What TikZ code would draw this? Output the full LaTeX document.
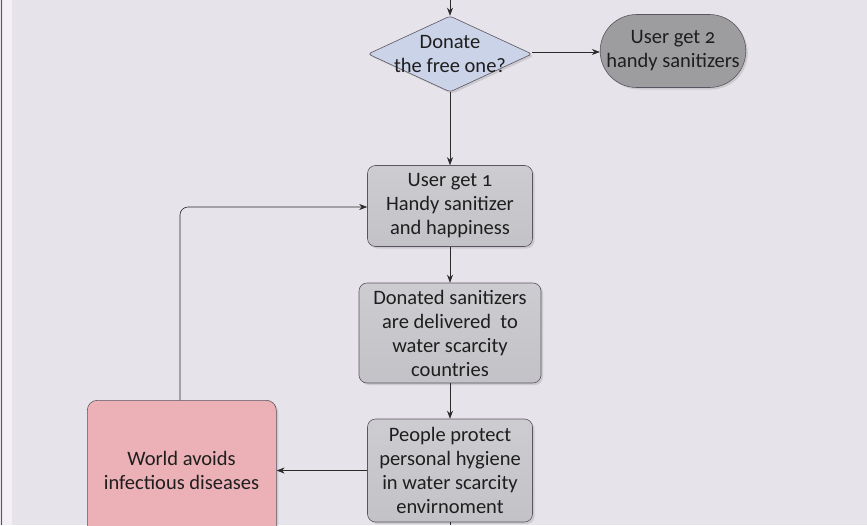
\documentclass[tikz,border=0pt]{standalone}
\usepackage{fontspec}
\setmainfont{Carlito}[Numbers=OldStyle]
\usetikzlibrary{shapes.geometric,shapes.misc,shadows,arrows.meta}
\definecolor{bgc}{HTML}{E7E3EA}
\definecolor{bandc}{HTML}{F3EFF5}
\definecolor{edgec}{HTML}{5A5560}
\definecolor{boxc}{HTML}{C3C2C6}
\definecolor{boxtop}{HTML}{CDCCD0}
\definecolor{stadc}{HTML}{9D9C9F}
\definecolor{diac}{HTML}{CBD3E8}
\definecolor{pinkc}{HTML}{ECB1B6}
\definecolor{linec}{HTML}{2A2A2A}
\definecolor{txtc}{HTML}{1E1E1E}
\tikzset{
  shad/.style={drop shadow={opacity=0.25,shadow xshift=2pt,shadow yshift=-2pt}},
  gbox/.style={draw=edgec,line width=0.6pt,rounded corners=8pt,top color=boxtop,bottom color=boxc,shad,
    align=center,text=txtc,font=\fontsize{20.5}{24}\selectfont,inner sep=0pt},
  stadbox/.style={draw=edgec,line width=0.6pt,rounded rectangle,fill=stadc,shad,
    align=center,text=txtc,font=\fontsize{20.5}{24}\selectfont,inner sep=0pt,
    minimum width=143pt,minimum height=73pt},
  diabox/.style={draw=edgec,line width=0.6pt,diamond,fill=diac,shad,rounded corners=3pt,
    minimum width=164pt,minimum height=76pt,inner sep=0pt},
  txt/.style={align=center,text=txtc,font=\fontsize{20.5}{24}\selectfont,inner sep=0pt},
  conn/.style={draw=linec,line width=0.6pt,-{Stealth[length=8pt,width=6pt]}},
  plain/.style={draw=linec,line width=0.6pt}
}
\begin{document}
\begin{tikzpicture}[x=1pt,y=-1pt]
\useasboundingbox (0,0) rectangle (867,525);
\clip (0,0) rectangle (867,525);
\fill[bgc] (0,0) rectangle (867,525);
\fill[bandc] (3,0) rectangle (12,525);
\draw[edgec,line width=1.2pt] (1.2,0) -- (1.2,525);

\coordinate (top) at (450,0);
\node[diabox] (dia) at (450,54) {};
\node[txt] (diat) at (450,54) {Donate\\the free one?};
\node[stadbox] (stad) at (673,51) {User get 2\\handy sanitizers};
\node[gbox,minimum width=165pt,minimum height=81pt] (b1) at (450,206) {User get 1\\Handy sanitizer\\and happiness};
\node[gbox,minimum width=182pt,minimum height=100pt] (b2) at (450,333) {Donated sanitizers\\are delivered\ \ to\\water scarcity\\countries};
\node[gbox,minimum width=165pt,minimum height=103pt] (b3) at (450,470.5) {People protect\\personal hygiene\\in water scarcity\\envirnoment};
\node[draw=edgec,line width=0.6pt,rounded corners=10pt,fill=pinkc,shad,
  minimum width=189pt,minimum height=160pt,anchor=north west,inner sep=0pt] (pink) at (87,400) {};
\node[txt] (pinkt) at (181.5,470) {World avoids\\infectious diseases};
\coordinate (bot) at (450,525);
\coordinate (bend) at (180,207);

\draw[conn] (top) -- (dia.north);
\draw[conn] (dia.east) ++(0,-2) -- (stad.west |- 0,52);
\draw[conn] (dia.south) -- (b1.north);
\draw[conn] (b1.south) -- (b2.north);
\draw[conn] (b2.south) -- (b3.north);
\draw[plain] (b3.south) -- (bot);
\draw[conn] (b3.west) -- (pink.east |- b3.west);
\draw[conn,rounded corners=8pt] (pink.north -| bend) -- (bend) -- (b1.west |- bend);
\end{tikzpicture}
\end{document}
